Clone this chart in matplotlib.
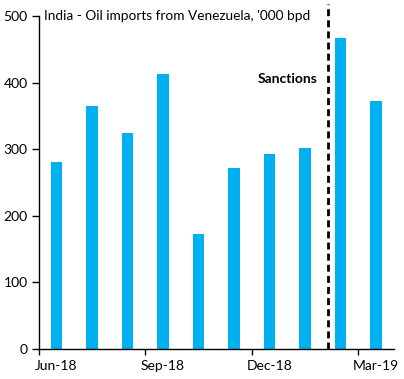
import matplotlib
matplotlib.use("Agg")
import matplotlib.pyplot as plt
import numpy as np

months = ["Jun-18", "Jul-18", "Aug-18", "Sep-18", "Oct-18", "Nov-18",
          "Dec-18", "Jan-19", "Feb-19", "Mar-19"]
imports = [281, 365, 324, 413, 173, 272, 293, 302, 467, 372]
yticks = [0, 100, 200, 300, 400, 500]
title = "India - Oil imports from Venezuela, '000 bpd"
sanction_pos = 7.64

plt.rcParams['font.family'] = ['Lato', 'DejaVu Sans']

fig = plt.figure(figsize=(4.04, 3.79), dpi=100)
ax = fig.add_axes([0.0958, 0.0792, 0.975 - 0.0958, 0.9578 - 0.0792])

x = np.arange(len(months))
ax.bar(x, imports, width=0.32, color="#00B0F0", zorder=2)

ax.set_xlim(-0.5, len(months) - 0.5)
ax.set_ylim(0, 500)
ax.set_yticks(yticks)
ax.set_yticklabels([str(v) for v in yticks], fontsize=10)

ax.set_xticks([-0.5, 2.5, 5.5, 8.5])
ax.set_xticklabels([])
ax.set_xticks([0, 3, 6, 9], minor=True)
ax.set_xticklabels([months[i] for i in [0, 3, 6, 9]], minor=True, fontsize=10)
ax.tick_params(axis='x', which='minor', length=0, pad=8)
ax.tick_params(axis='x', which='major', length=4, width=1, direction='out')
ax.tick_params(axis='y', length=5, width=1, direction='out', pad=3)

for s in ["top", "right"]:
    ax.spines[s].set_visible(False)
ax.spines["left"].set_linewidth(1)
ax.spines["bottom"].set_linewidth(1)

ax.axvline(sanction_pos, ymin=0, ymax=1.035, color="black", lw=2,
           linestyle=(0, (2.5, 1.5)), clip_on=False, zorder=3)

ax.text(0.015, 1.0, title, transform=ax.transAxes, fontsize=9.8,
        ha="left", va="center")
ax.text(sanction_pos - 0.3, 405, "Sanctions", fontsize=10, fontweight="bold",
        ha="right", va="center")

fig.savefig("out.png", dpi=100)
